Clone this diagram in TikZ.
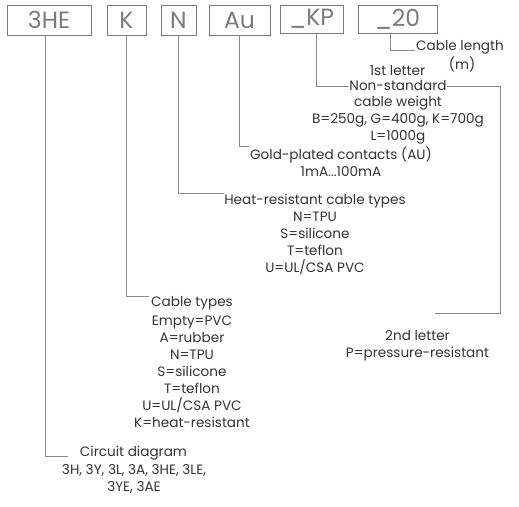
\documentclass[tikz,border=0pt]{standalone}
\usepackage{fontspec}
\setmainfont{Poppins}
\definecolor{inkgray}{HTML}{333333}
\definecolor{boxgray}{HTML}{7A7A7A}
\definecolor{leadgray}{HTML}{8A8A8A}
\tikzset{
  codebox/.style={rectangle,draw=boxgray,line width=0.8pt,minimum height=30pt,inner sep=0pt,text=boxgray,font=\fontsize{23.5}{25}\selectfont},
  lbl/.style={inner sep=0pt,text=inkgray,align=center,font=\fontsize{13.6}{17}\selectfont},
  lead/.style={draw=leadgray,line width=0.8pt}
}
\begin{document}
\begin{tikzpicture}[x=1pt,y=-1pt]
  \useasboundingbox (0,0) rectangle (519,506);

  % code boxes
  \node[codebox,minimum width=84pt] (bhe) at (49,20)     {3HE};
  \node[codebox,minimum width=39pt] (bk)  at (126.5,20)  {K};
  \node[codebox,minimum width=35pt] (bn)  at (178.5,20)  {N};
  \node[codebox,minimum width=61pt] (bau) at (239.5,20)  {Au};
  \node[codebox,minimum width=63pt,minimum height=28pt] (bkp) at (311.5,19) {\_KP};
  \node[codebox,minimum width=79pt,minimum height=28pt] (b20) at (397.5,19) {\_20};

  % labels
  \node[lbl] (clen) at (460,47)   {Cable length};
  \node[lbl] (clenb) at (462,64)  {(m)};
  \node[lbl] (fst)  at (397.5,71) {1st letter};
  \node[lbl] (nstd) at (398,86)   {Non-standard};
  \node[lbl] (nstdb) at (398,120) {cable weight\\B=250g, G=400g, K=700g\\L=1000g};
  \node[lbl] (gld)  at (341,155)  {Gold-plated contacts (AU)};
  \node[lbl] (gldb) at (341,172)  {1mA...100mA};
  \node[lbl] (hrt)  at (315,201)  {Heat-resistant cable types};
  \node[lbl] (hrtb) at (315,243.5) {N=TPU\\S=silicone\\T=teflon\\U=UL/CSA PVC};
  \node[lbl] (cty)  at (192,303)  {Cable types};
  \node[lbl] (ctyb) at (192,372)  {Empty=PVC\\A=rubber\\N=TPU\\S=silicone\\T=teflon\\U=UL/CSA PVC\\K=heat-resistant};
  \node[lbl] (snd)  at (417.5,345.5) {2nd letter\\P=pressure-resistant};
  \node[lbl] (cd)   at (133.5,453) {Circuit diagram};
  \node[lbl] (cdb)  at (134,478.5) {3H, 3Y, 3L, 3A, 3HE, 3LE,\\3YE, 3AE};

  \coordinate (kpturn) at (500,313);
  \coordinate (kpend)  at (435,313);

  % leaders
  \draw[lead] ([xshift=-4pt]bhe.south) |- ([xshift=-12pt]cd.base west);
  \draw[lead] (bk.south) |- ([xshift=-2pt]cty.north west);
  \draw[lead] (bn.south) |- (hrt.north west);
  \draw[lead] (bau.south) |- ([xshift=-1pt]gld.north west);
  \draw[lead] ([xshift=4.5pt]bkp.south) |- (nstd.west);
  \draw[lead] (nstd.east) -| (kpturn) -- (kpend);
  \draw[lead] ([xshift=-7.5pt]b20.south) |- ([xshift=-1pt]clen.base west);
\end{tikzpicture}
\end{document}
